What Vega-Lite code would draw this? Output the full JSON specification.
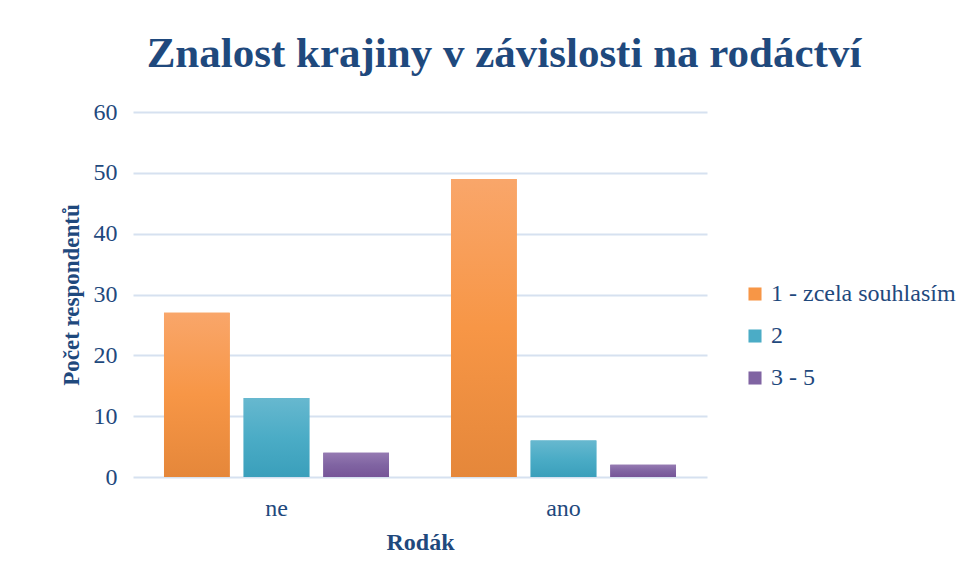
{
  "$schema": "https://vega.github.io/schema/vega-lite/v6.json",
  "width": 574,
  "height": 365,
  "autosize": {"type": "none"},
  "padding": {"left": 133, "top": 112, "right": 256, "bottom": 103},
  "background": "white",
  "title": {
    "text": "Znalost krajiny v závislosti na rodáctví",
    "font": "Liberation Serif",
    "fontSize": 43,
    "fontWeight": "bold",
    "color": "#1F497D",
    "anchor": "middle",
    "dx": 84,
    "offset": 24
  },
  "data": {
    "values": [
      {"rodak": "ne", "odpoved": "1 - zcela souhlasím", "pocet": 27},
      {"rodak": "ne", "odpoved": "2", "pocet": 13},
      {"rodak": "ne", "odpoved": "3 - 5", "pocet": 4},
      {"rodak": "ano", "odpoved": "1 - zcela souhlasím", "pocet": 49},
      {"rodak": "ano", "odpoved": "2", "pocet": 6},
      {"rodak": "ano", "odpoved": "3 - 5", "pocet": 2}
    ]
  },
  "encoding": {
    "x": {
      "field": "rodak",
      "type": "nominal",
      "sort": ["ne", "ano"],
      "scale": {"domain": ["ne", "ano"], "paddingInner": 0.216, "paddingOuter": 0.108},
      "axis": {
        "title": "Rodák",
        "labelAngle": 0,
        "domain": false,
        "ticks": false,
        "labelFont": "Liberation Serif",
        "labelFontSize": 24,
        "labelColor": "#1F497D",
        "labelPadding": 19,
        "titleFont": "Liberation Serif",
        "titleFontSize": 24,
        "titleFontWeight": "bold",
        "titleColor": "#1F497D",
        "titlePadding": 10
      }
    },
    "xOffset": {
      "field": "odpoved",
      "type": "nominal",
      "scale": {"domain": ["1 - zcela souhlasím", "2", "3 - 5"], "paddingInner": 0.175, "paddingOuter": 0}
    },
    "y": {
      "field": "pocet",
      "type": "quantitative",
      "scale": {"domain": [0, 60]},
      "axis": {
        "title": "Počet respondentů",
        "values": [0, 10, 20, 30, 40, 50, 60],
        "domain": false,
        "ticks": false,
        "gridColor": "#D6E1F0",
        "gridWidth": 2,
        "labelFont": "Liberation Serif",
        "labelFontSize": 24,
        "labelColor": "#1F497D",
        "labelPadding": 16,
        "titleFont": "Liberation Serif",
        "titleFontSize": 23,
        "titleFontWeight": "bold",
        "titleColor": "#1F497D",
        "titlePadding": 10
      }
    }
  },
  "layer": [
    {
      "mark": {"type": "bar"},
      "encoding": {
        "color": {
          "field": "odpoved",
          "type": "nominal",
          "scale": {
            "domain": ["1 - zcela souhlasím", "2", "3 - 5"],
            "range": ["#F79646", "#4BACC6", "#8064A2"]
          },
          "legend": {
            "title": null,
            "orient": "none",
            "legendX": 610,
            "legendY": 170,
            "symbolType": "square",
            "symbolSize": 170,
            "symbolStrokeWidth": 0,
            "labelFont": "Liberation Serif",
            "labelFontSize": 24,
            "labelColor": "#1F497D",
            "labelOffset": 4,
            "labelLimit": 400,
            "rowPadding": 18,
            "labelExpr": "datum.label == '2' ? '2' : '\u00a0' + datum.label"
          }
        }
      }
    },
    {
      "transform": [{"filter": "datum.odpoved == '1 - zcela souhlasím'"}],
      "mark": {"type": "bar", "color": {"gradient": "linear", "x1": 0, "y1": 0, "x2": 0, "y2": 1, "stops": [{"offset": 0, "color": "#F9A66A"}, {"offset": 0.5, "color": "#F79646"}, {"offset": 1, "color": "#E5873A"}]}}
    },
    {
      "transform": [{"filter": "datum.odpoved == '2'"}],
      "mark": {"type": "bar", "color": {"gradient": "linear", "x1": 0, "y1": 0, "x2": 0, "y2": 1, "stops": [{"offset": 0, "color": "#67B8CF"}, {"offset": 0.5, "color": "#4BACC6"}, {"offset": 1, "color": "#3A9FBB"}]}}
    },
    {
      "transform": [{"filter": "datum.odpoved == '3 - 5'"}],
      "mark": {"type": "bar", "color": {"gradient": "linear", "x1": 0, "y1": 0, "x2": 0, "y2": 1, "stops": [{"offset": 0, "color": "#957AB2"}, {"offset": 0.5, "color": "#8064A2"}, {"offset": 1, "color": "#765598"}]}}
    }
  ],
  "config": {
    "view": {"stroke": null}
  }
}
